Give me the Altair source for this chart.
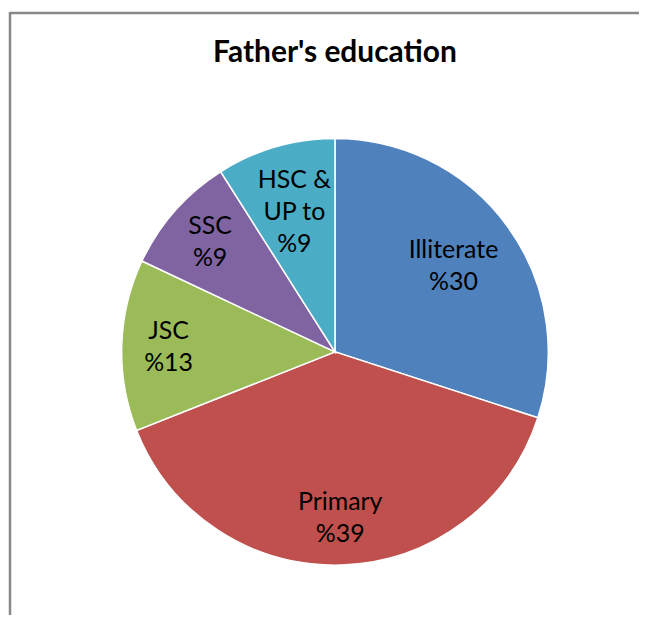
import altair as alt
import pandas as pd

categories = ["Illiterate", "Primary", "JSC", "SSC", "HSC & UP to"]
label_lines = [["Illiterate"], ["Primary"], ["JSC"], ["SSC"], ["HSC &", "UP to"]]
values = [30, 39, 13, 9, 9]
colors = ["#4F81BD", "#C0504D", "#9BBB59", "#8064A2", "#4BACC6"]

df = pd.DataFrame({
    "category": categories,
    "value": values,
    "order": list(range(len(categories))),
    "label": ["\n".join(lines + [f"%{v}"]) for lines, v in zip(label_lines, values)],
})

# label groups (placement as in the original: inner / outer ring, line count)
inner2 = ["Illiterate"]
outer2 = ["Primary", "JSC", "SSC"]
inner3 = ["HSC & UP to"]
for name, group in [("tA", inner2), ("tB", outer2), ("tC", inner3)]:
    df[name] = [lab if c in group else "" for c, lab in zip(df["category"], df["label"])]

W, H = 633, 608
CX, CY = 328, 344
LH = 32

base = alt.Chart(df).encode(
    theta=alt.Theta("value:Q", stack=True),
    order=alt.Order("order:Q"),
    x=alt.value(CX),
    y=alt.value(CY),
)

pie = base.mark_arc(radius=214, stroke="white", strokeWidth=1.5).encode(
    color=alt.Color("category:N", scale=alt.Scale(domain=categories, range=colors), legend=None)
)


def text_layer(field, radius, nlines):
    return base.mark_text(
        radius=radius, dy=-(nlines - 1) * LH / 2, font="Lato", fontSize=25,
        lineBreak="\n", lineHeight=LH, color="black", align="center", baseline="middle"
    ).encode(text=f"{field}:N")


labels = [text_layer("tA", 147, 2), text_layer("tB", 167, 2), text_layer("tC", 146, 3)]

title = alt.Chart(pd.DataFrame({"t": ["Father's education"]})).mark_text(
    font="Lato", fontSize=30, fontWeight="bold", color="black", align="center", baseline="middle"
).encode(text="t:N", x=alt.value(CX), y=alt.value(44))

frame_top = alt.Chart(pd.DataFrame({"a": [0]})).mark_rule(color="#888888", strokeWidth=2.5).encode(
    x=alt.value(2), x2=alt.value(W), y=alt.value(4)
)
frame_left = alt.Chart(pd.DataFrame({"a": [0]})).mark_rule(color="#888888", strokeWidth=2.5).encode(
    x=alt.value(2), y=alt.value(3), y2=alt.value(H)
)

chart = alt.layer(pie, *labels, title, frame_top, frame_left).properties(
    width=W, height=H,
    padding=0,
).configure_view(stroke=None)

chart.save("out.html", embed_options={"renderer": "svg", "actions": False})
